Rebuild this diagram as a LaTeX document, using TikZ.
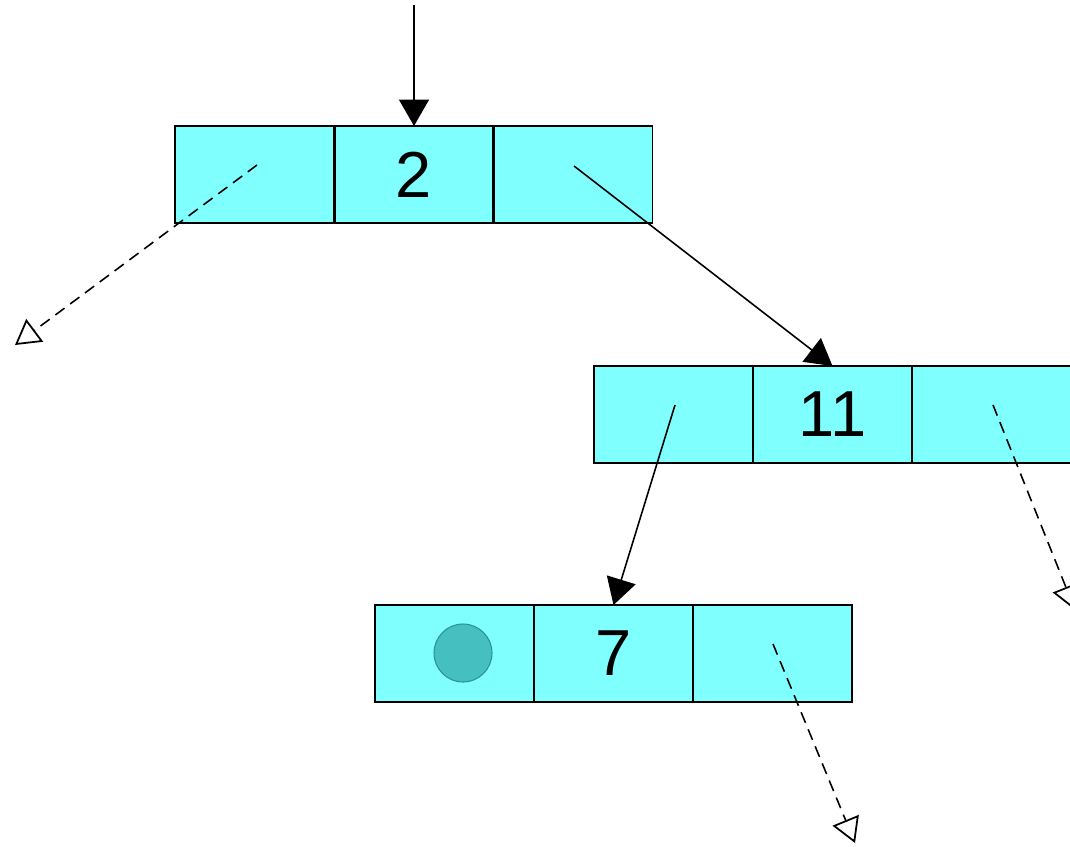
\documentclass[tikz,border=0pt]{standalone}
\usepackage{fontspec}
\setmainfont{Liberation Sans}
\usetikzlibrary{arrows.meta}
\definecolor{cellfill}{HTML}{80FFFF}
\definecolor{dotfill}{HTML}{45BFBF}
\definecolor{dotline}{HTML}{2A9494}
\tikzset{
  cell/.style={draw=black, line width=1.1pt, fill=cellfill, minimum width=3.18cm, minimum height=1.94cm, inner sep=0pt, outer sep=0pt, font=\fontsize{37}{37}\selectfont},
  divider/.style={line width=1.6pt},
  link/.style={line width=0.9pt, -{Triangle[length=15pt, width=17pt]}},
  nil/.style={line width=0.9pt, dash pattern=on 6.5pt off 4pt, -{Triangle[open, length=14pt, width=16pt, line width=1pt]}},
}
\begin{document}
\begin{tikzpicture}
\useasboundingbox (0,0) rectangle (21.4,-16.92);
% node 2
\node[cell] (b1l) at (5.09,-3.49) {};
\node[cell] (b1m) at (8.28,-3.49) {2};
\node[cell] (b1r) at (11.46,-3.49) {};
% node 11
\node[cell] (b2l) at (13.47,-8.29) {};
\node[cell] (b2m) at (16.65,-8.29) {11};
\node[cell] (b2r) at (19.83,-8.29) {};
% node 7
\node[cell] (b3l) at (9.09,-13.07) {};
\node[cell] (b3m) at (12.27,-13.07) {7};
\node[cell] (b3r) at (15.45,-13.07) {};
\node[circle, draw=dotline, fill=dotfill, line width=0.6pt, minimum size=1.16cm, inner sep=0pt] (dot) at (9.26,-13.06) {};
% cell dividers
\draw[divider] (b1m.north west) -- (b1m.south west) (b1m.north east) -- (b1m.south east);
\draw[divider] (b2m.north west) -- (b2m.south west) (b2m.north east) -- (b2m.south east);
\draw[divider] (b3m.north west) -- (b3m.south west) (b3m.north east) -- (b3m.south east);
% free ends
\coordinate (top) at (8.28,-0.1);
\coordinate (p1l) at (5.14,-3.30);
\coordinate (t1l) at (0.3,-6.9);
\coordinate (p1r) at (11.48,-3.32);
\coordinate (p2l) at (13.5,-8.1);
\coordinate (p2r) at (19.86,-8.1);
\coordinate (t2r) at (21.5,-12.2);
\coordinate (p3r) at (15.46,-12.88);
\coordinate (t3r) at (17.1,-16.86);
% connectors
\draw[link] (top) -- (b1m.north);
\draw[nil] (p1l) -- (t1l);
\draw[link] (p1r) -- (b2m.north);
\draw[link] (p2l) -- (b3m.north);
\draw[nil] (p2r) -- (t2r);
\draw[nil] (p3r) -- (t3r);
\end{tikzpicture}
\end{document}
